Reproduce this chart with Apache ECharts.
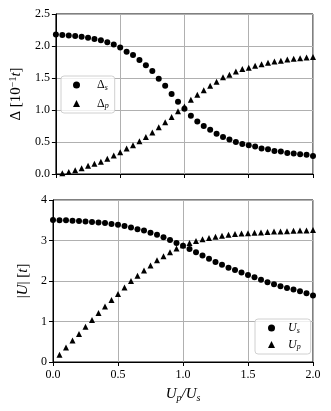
<!DOCTYPE html>
<html><head><meta charset="utf-8">
<script src="https://cdn.jsdelivr.net/npm/echarts@6/dist/echarts.min.js"></script>
<style>html,body{margin:0;padding:0;background:#fff}#c{width:331px;height:411px}</style>
</head><body><div id="c"></div>
<script>
const xVals = [0.00,0.05,0.10,0.15,0.20,0.25,0.30,0.35,0.40,0.45,0.50,0.55,0.60,0.65,0.70,0.75,0.80,0.85,0.90,0.95,1.00,1.05,1.10,1.15,1.20,1.25,1.30,1.35,1.40,1.45,1.50,1.55,1.60,1.65,1.70,1.75,1.80,1.85,1.90,1.95,2.00];
const deltaS = [2.18,2.17,2.165,2.155,2.145,2.13,2.11,2.09,2.06,2.025,1.975,1.91,1.86,1.78,1.70,1.61,1.49,1.38,1.25,1.13,1.02,0.91,0.82,0.75,0.69,0.63,0.58,0.54,0.50,0.47,0.45,0.43,0.40,0.385,0.36,0.35,0.33,0.32,0.31,0.30,0.28];
const deltaP = [null,0.01,0.03,0.06,0.09,0.13,0.16,0.19,0.24,0.29,0.34,0.40,0.45,0.51,0.58,0.65,0.73,0.81,0.89,0.98,1.055,1.16,1.24,1.31,1.38,1.44,1.51,1.55,1.60,1.64,1.66,1.69,1.715,1.74,1.757,1.77,1.79,1.80,1.81,1.82,1.83];
const uS = [3.505,3.50,3.497,3.49,3.48,3.47,3.455,3.445,3.43,3.41,3.39,3.36,3.32,3.28,3.25,3.19,3.14,3.08,3.01,2.94,2.87,2.79,2.71,2.63,2.55,2.47,2.40,2.33,2.27,2.21,2.15,2.09,2.03,1.97,1.92,1.87,1.83,1.79,1.75,1.70,1.64];
const uP = [null,0.18,0.36,0.53,0.69,0.87,1.04,1.21,1.37,1.53,1.68,1.84,2.00,2.13,2.26,2.38,2.51,2.61,2.71,2.80,2.88,2.94,2.99,3.03,3.06,3.09,3.12,3.14,3.16,3.175,3.18,3.19,3.20,3.21,3.22,3.225,3.23,3.24,3.25,3.25,3.26];
const xTicks = [0.0,0.5,1.0,1.5,2.0];
const yTopTicks = [0.0,0.5,1.0,1.5,2.0,2.5];
const yBotTicks = [0,1,2,3,4];

const F = "'Liberation Serif','DejaVu Serif',serif";
const pairs = (ys) => xVals.map((x,i)=> ys[i]==null ? null : [x, ys[i]]).filter(p=>p);

const richBase = {
  n:{fontFamily:F,fontSize:15,color:'#000'},
  it:{fontFamily:F,fontSize:15,fontStyle:'italic',color:'#000'},
  sub:{fontFamily:F,fontSize:10,fontStyle:'italic',color:'#000',padding:[7,0,0,0]},
  sup:{fontFamily:F,fontSize:10,color:'#000',padding:[0,0,7,0]}
};
const legRich = {
  n:{fontFamily:F,fontSize:12,color:'#000',padding:[0,0,0,12]},
  it:{fontFamily:F,fontSize:12,fontStyle:'italic',color:'#000',padding:[0,0,0,8]},
  sub:{fontFamily:F,fontSize:8,fontStyle:'italic',color:'#000',padding:[5,0,0,0]}
};

const gridLine = {show:true,lineStyle:{color:'#b0b0b0',width:1}};
const axisLbl = {fontFamily:F,fontSize:12,color:'#000'};
const tick = {show:true,length:4,lineStyle:{color:'#000'}};
const mark = {color:'#000',opacity:1};

const chart = echarts.init(document.getElementById('c'));
chart.setOption({
  animation:false,
  grid:[
    {left:53,top:14,width:260,height:160,show:true,borderColor:'#000',borderWidth:1,backgroundColor:'transparent'},
    {left:53,top:200,width:260,height:162,show:true,borderColor:'#000',borderWidth:1,backgroundColor:'transparent'}
  ],
  xAxis:[
    {gridIndex:0,type:'value',min:xTicks[0],max:xTicks[xTicks.length-1],interval:0.5,
     axisLine:{show:true,lineStyle:{color:'#000'}},axisTick:tick,axisLabel:{show:false},splitLine:gridLine},
    {gridIndex:1,type:'value',min:xTicks[0],max:xTicks[xTicks.length-1],interval:0.5,
     axisLine:{show:true,lineStyle:{color:'#000'}},axisTick:tick,
     axisLabel:Object.assign({formatter:v=>v.toFixed(1),margin:7},axisLbl),splitLine:gridLine,
     name:'{it|U}{sub|p}{it|/U}{sub|s}',nameLocation:'middle',nameGap:24,
     nameTextStyle:{rich:richBase}}
  ],
  yAxis:[
    {gridIndex:0,type:'value',min:yTopTicks[0],max:yTopTicks[yTopTicks.length-1],interval:0.5,
     axisLine:{show:true,lineStyle:{color:'#000'}},axisTick:tick,
     axisLabel:Object.assign({formatter:v=>v.toFixed(1),margin:6},axisLbl),splitLine:gridLine,
     name:'{n|Δ [10}{sup|−1}{it|t}{n|]}',nameLocation:'middle',nameGap:30,nameRotate:90,
     nameTextStyle:{rich:richBase}},
    {gridIndex:1,type:'value',min:yBotTicks[0],max:yBotTicks[yBotTicks.length-1],interval:1,
     axisLine:{show:true,lineStyle:{color:'#000'}},axisTick:tick,
     axisLabel:Object.assign({formatter:v=>String(v),margin:6},axisLbl),splitLine:gridLine,
     name:'{n||}{it|U}{n|| [}{it|t}{n|]}',nameLocation:'middle',nameGap:16,nameRotate:90,
     nameTextStyle:{rich:richBase}}
  ],
  legend:[
    {data:[{name:'Ds',icon:'circle'},{name:'Dp',icon:'triangle'}],orient:'vertical',left:61,top:76,
     padding:[3,6,3,12],itemWidth:7,itemHeight:7,itemGap:6,
     borderColor:'#d0d0d0',borderWidth:1,borderRadius:3,backgroundColor:'rgba(255,255,255,0.8)',
     formatter:n=> n==='Ds' ? '{n|Δ}{sub|s}' : '{n|Δ}{sub|p}',
     textStyle:{rich:legRich}},
    {data:[{name:'Us',icon:'circle'},{name:'Up',icon:'triangle'}],orient:'vertical',left:255,top:319,
     padding:[3,10,3,13],itemWidth:7,itemHeight:7,itemGap:4,
     borderColor:'#d0d0d0',borderWidth:1,borderRadius:3,backgroundColor:'rgba(255,255,255,0.8)',
     formatter:n=> n==='Us' ? '{it|U}{sub|s}' : '{it|U}{sub|p}',
     textStyle:{rich:legRich}}
  ],
  series:[
    {name:'Ds',type:'scatter',xAxisIndex:0,yAxisIndex:0,symbol:'circle',symbolSize:6,itemStyle:mark,data:pairs(deltaS)},
    {name:'Dp',type:'scatter',xAxisIndex:0,yAxisIndex:0,symbol:'triangle',symbolSize:6,itemStyle:mark,data:pairs(deltaP)},
    {name:'Us',type:'scatter',xAxisIndex:1,yAxisIndex:1,symbol:'circle',symbolSize:6,itemStyle:mark,data:pairs(uS)},
    {name:'Up',type:'scatter',xAxisIndex:1,yAxisIndex:1,symbol:'triangle',symbolSize:6,itemStyle:mark,data:pairs(uP)}
  ]
});
</script></body></html>
